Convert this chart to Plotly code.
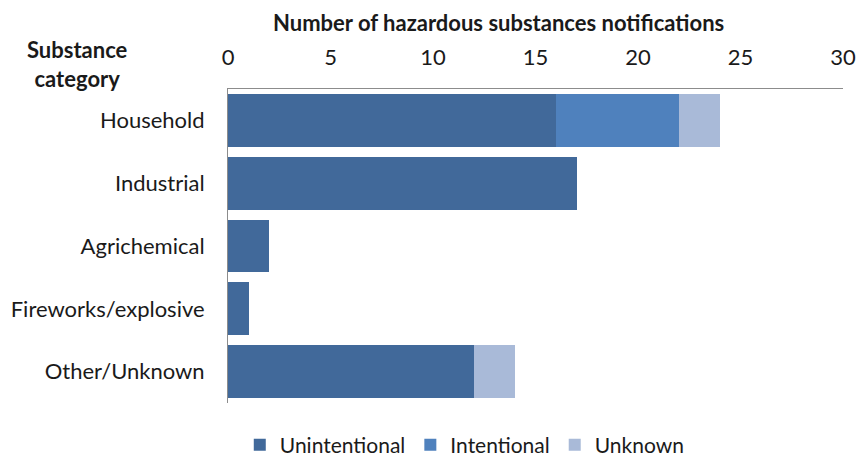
import plotly.graph_objects as go

categories = ["Household", "Industrial", "Agrichemical", "Fireworks/explosive", "Other/Unknown"]
unintentional = [16, 17, 2, 1, 12]
intentional = [6, 0, 0, 0, 0]
unknown = [2, 0, 0, 0, 2]
series = [("Unintentional", unintentional, "#41699A"),
          ("Intentional", intentional, "#4F81BD"),
          ("Unknown", unknown, "#A9BAD8")]
x_ticks = [0, 5, 10, 15, 20, 25, 30]

FONT = "Lato"
FS = 22

fig = go.Figure()
for name, vals, col in series:
    fig.add_trace(go.Bar(y=categories, x=vals, name=name, orientation="h",
                         marker=dict(color=col, line=dict(width=0))))

fig.update_layout(
    barmode="stack", bargap=0.16,
    width=860, height=459,
    margin=dict(l=228, r=17, t=89, b=56, autoexpand=False),
    plot_bgcolor="white", paper_bgcolor="white",
    font=dict(family=FONT, size=FS, color="#1a1a1a"),
    legend=dict(orientation="h", x=0.385, xanchor="center",
                yref="paper", y=-0.134, yanchor="middle",
                font=dict(size=21), traceorder="normal", itemwidth=30,
                tracegroupgap=0),
    showlegend=True,
)
fig.update_xaxes(side="top", range=[0, 30], tickvals=x_ticks, showgrid=False,
                 showline=True, linecolor="#8c8c8c", linewidth=1,
                 ticks="outside", ticklen=14, tickcolor="rgba(0,0,0,0)",
                 zeroline=False, tickfont=dict(size=FS))
fig.update_yaxes(autorange="reversed", showgrid=False, showline=True,
                 linecolor="#8c8c8c", linewidth=1,
                 ticks="outside", ticklen=18, tickcolor="rgba(0,0,0,0)")

fig.add_annotation(text="<b>Number of hazardous substances notifications</b>",
                   xref="paper", yref="paper", x=0.44, y=1.0, yshift=67,
                   showarrow=False, font=dict(size=FS), xanchor="center", yanchor="middle")
fig.add_annotation(text="<b>Substance<br>category</b>",
                   xref="paper", yref="paper", x=-0.244, y=1.0, yshift=25,
                   showarrow=False, font=dict(size=FS), xanchor="center", yanchor="middle",
                   align="center")

fig.write_html("out.html")
